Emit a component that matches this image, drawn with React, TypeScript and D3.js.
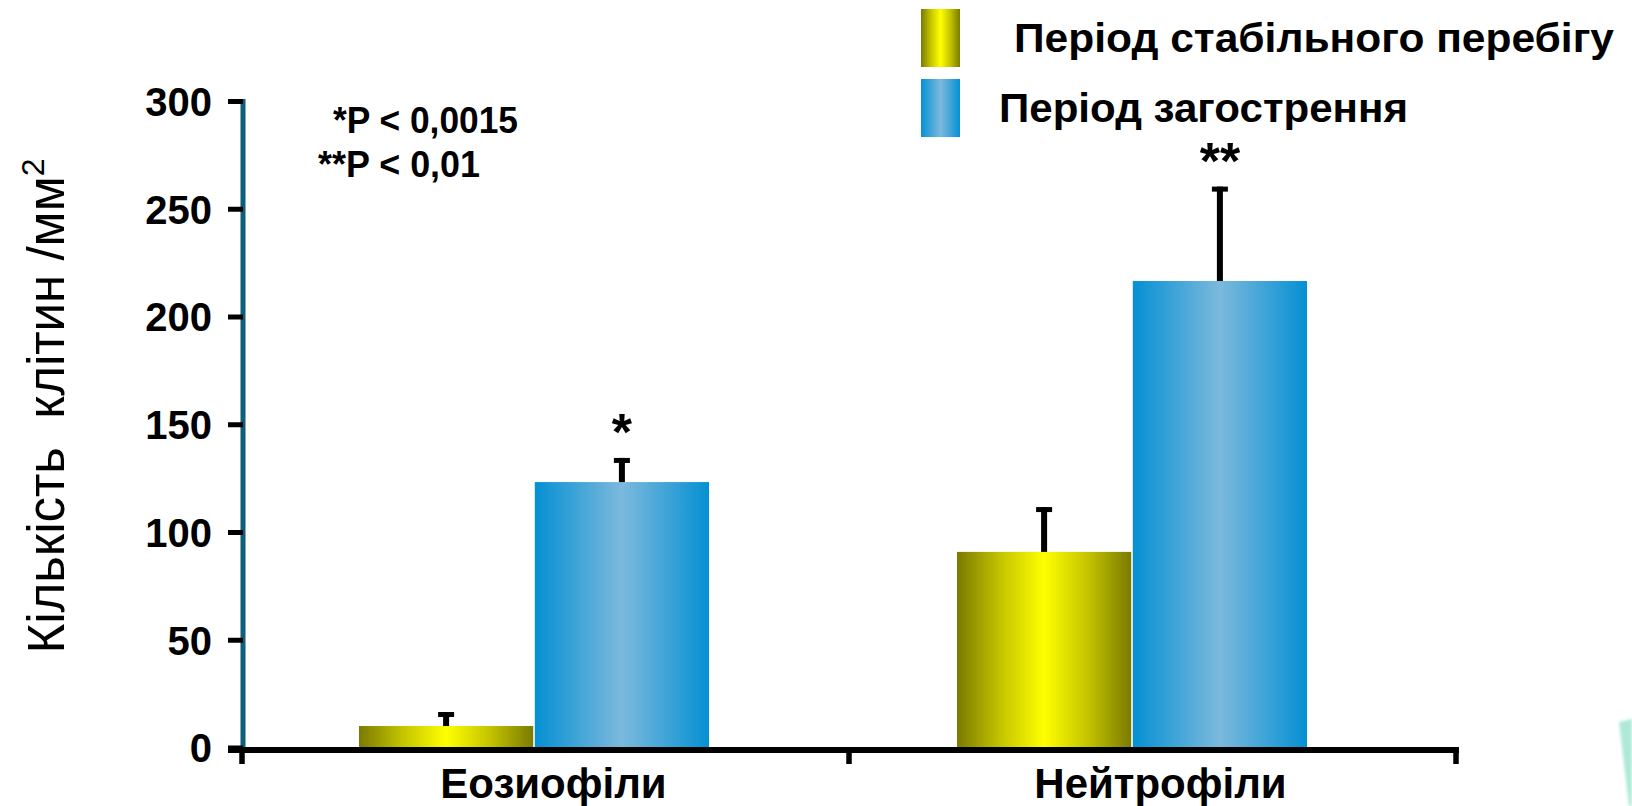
import React from 'react';
import * as d3 from 'd3';

// Cell counts per mm², two clinical periods, with SEM-style error whiskers
const categories = ['Еозиофіли', 'Нейтрофіли'];
const seriesNames = ['Період стабільного перебігу', 'Період загострення'];
const stableValues = [10.2, 91];
const stableErrors = [6.5, 20.8];
const exacerbValues = [123.4, 216.7];
const exacerbErrors = [11.2, 43.8];
const exacerbMarks = ['*', '**'];
const yTicks = [0, 50, 100, 150, 200, 250, 300];
const pNotes = ['*P < 0,0015', '**P < 0,01'];
const yTitle = 'Кількість  клітин /мм';
const yTitleSup = '2';

const FONT = "'Liberation Sans', Arial, Helvetica, sans-serif";
const W = 1632;
const H = 806;

const y = d3.scaleLinear().domain([0, 300]).range([748, 101.5]);
const xAxis = d3.scaleBand<string>().domain(categories).range([242, 1456]);
const xGroup = d3.scalePoint<string>().domain(categories).range([534, 1132]);
const xSeries = d3
  .scaleBand<string>()
  .domain(seriesNames)
  .range([-175, 175])
  .paddingInner(0.009);

const gradIds = ['gradStable', 'gradExacerb'];

type Bar = { cat: string; series: string; value: number; err: number; mark: string; grad: string };

const bars: Bar[] = categories.flatMap((c, i) => [
  { cat: c, series: seriesNames[0], value: stableValues[i], err: stableErrors[i], mark: '', grad: gradIds[0] },
  { cat: c, series: seriesNames[1], value: exacerbValues[i], err: exacerbErrors[i], mark: exacerbMarks[i], grad: gradIds[1] },
]);

export default function App() {
  const bw = xSeries.bandwidth();
  const axisLeft = 228;
  const axisRight = xAxis.range()[1] + 3;
  const tickEdges = [xAxis.range()[0], ...categories.slice(1).map((c) => xAxis(c) as number), xAxis.range()[1]];

  return (
    <svg
      width={W}
      height={H}
      style={{ position: 'fixed', left: 0, top: 0, background: '#ffffff' }}
      fontFamily={FONT}
    >
      <defs>
        <linearGradient id="gradStable" x1="0" x2="1" y1="0" y2="0">
          <stop offset="0" stopColor="#7a7a00" />
          <stop offset="0.25" stopColor="#c4c400" />
          <stop offset="0.5" stopColor="#ffff00" />
          <stop offset="0.75" stopColor="#c4c400" />
          <stop offset="1" stopColor="#7a7a00" />
        </linearGradient>
        <linearGradient id="gradExacerb" x1="0" x2="1" y1="0" y2="0">
          <stop offset="0" stopColor="#0590d3" />
          <stop offset="0.5" stopColor="#7cb9dc" />
          <stop offset="1" stopColor="#0590d3" />
        </linearGradient>
        <filter id="soft" x="-50%" y="-50%" width="200%" height="200%">
          <feGaussianBlur stdDeviation="1.6" />
        </filter>
      </defs>

      {/* bars */}
      {bars.map((b, i) => {
        const x0 = (xGroup(b.cat) as number) + (xSeries(b.series) as number);
        return (
          <rect
            key={'bar' + i}
            x={x0}
            y={y(b.value)}
            width={bw}
            height={y(0) - y(b.value)}
            fill={`url(#${b.grad})`}
          />
        );
      })}

      {/* error whiskers */}
      {bars.map((b, i) => {
        const cx = (xGroup(b.cat) as number) + (xSeries(b.series) as number) + bw / 2;
        const top = y(b.value + b.err);
        return (
          <g key={'err' + i} fill="#000">
            <rect x={cx - 3} y={top} width={6} height={y(b.value) - top} />
            <rect x={cx - 8} y={top} width={16} height={5} />
          </g>
        );
      })}

      {/* significance marks */}
      {bars
        .filter((b) => b.mark)
        .map((b, i) => {
          const cx = (xGroup(b.cat) as number) + (xSeries(b.series) as number) + bw / 2;
          return (
            <text
              key={'mk' + i}
              x={cx}
              y={y(b.value + b.err) - 8}
              textAnchor="middle"
              fontSize={52}
              fontWeight="bold"
              fill="#000"
            >
              {b.mark}
            </text>
          );
        })}

      {/* y axis */}
      <line x1={243} x2={243} y1={y(300) - 2.5} y2={y(0)} stroke="#0d5f7c" strokeWidth={5} />
      {yTicks.map((t) => (
        <g key={'yt' + t}>
          <line x1={axisLeft} x2={243} y1={y(t)} y2={y(t)} stroke="#000" strokeWidth={5} />
          <text
            x={212}
            y={y(t)}
            dy="0.36em"
            textAnchor="end"
            fontSize={40}
            fontWeight="bold"
            fill="#000"
          >
            {t}
          </text>
        </g>
      ))}

      {/* x axis */}
      <line x1={axisLeft} x2={axisRight} y1={750} y2={750} stroke="#000" strokeWidth={6} />
      {tickEdges.map((tx, i) => (
        <line key={'xt' + i} x1={tx} x2={tx} y1={750} y2={764} stroke="#000" strokeWidth={5.5} />
      ))}
      {categories.map((c) => (
        <text
          key={'xl' + c}
          x={(xAxis(c) as number) + xAxis.bandwidth() / 2 + 8}
          y={798}
          textAnchor="middle"
          fontSize={42}
          fontWeight="bold"
          fill="#000"
        >
          {c}
        </text>
      ))}

      {/* y title */}
      <text
        transform="translate(64,406) rotate(-90)"
        textAnchor="middle"
        fontSize={51}
        fill="#000"
        style={{ whiteSpace: 'pre' }}
      >
        {yTitle}
        <tspan dy={-20} fontSize={32}>
          {yTitleSup}
        </tspan>
      </text>

      {/* p-value notes */}
      <text x={333} y={133} fontSize={36} fontWeight="bold" fill="#000" textLength={185} lengthAdjust="spacingAndGlyphs">
        {pNotes[0]}
      </text>
      <text x={318} y={177} fontSize={36} fontWeight="bold" fill="#000" textLength={162} lengthAdjust="spacingAndGlyphs">
        {pNotes[1]}
      </text>

      {/* legend */}
      <rect x={921} y={9} width={39} height={58} fill="url(#gradStable)" />
      <rect x={921} y={79} width={39} height={58} fill="url(#gradExacerb)" />
      <text x={1014} y={52} fontSize={41} fontWeight="bold" fill="#000" textLength={600} lengthAdjust="spacingAndGlyphs">
        {seriesNames[0]}
      </text>
      <text x={999} y={122} fontSize={41} fontWeight="bold" fill="#000" textLength={409} lengthAdjust="spacingAndGlyphs">
        {seriesNames[1]}
      </text>

      {/* slide decoration corner */}
      <polygon
        points="1619,722 1632,719 1632,806 1629,806"
        fill="#9fe6d0"
        opacity={0.85}
        filter="url(#soft)"
      />
    </svg>
  );
}
